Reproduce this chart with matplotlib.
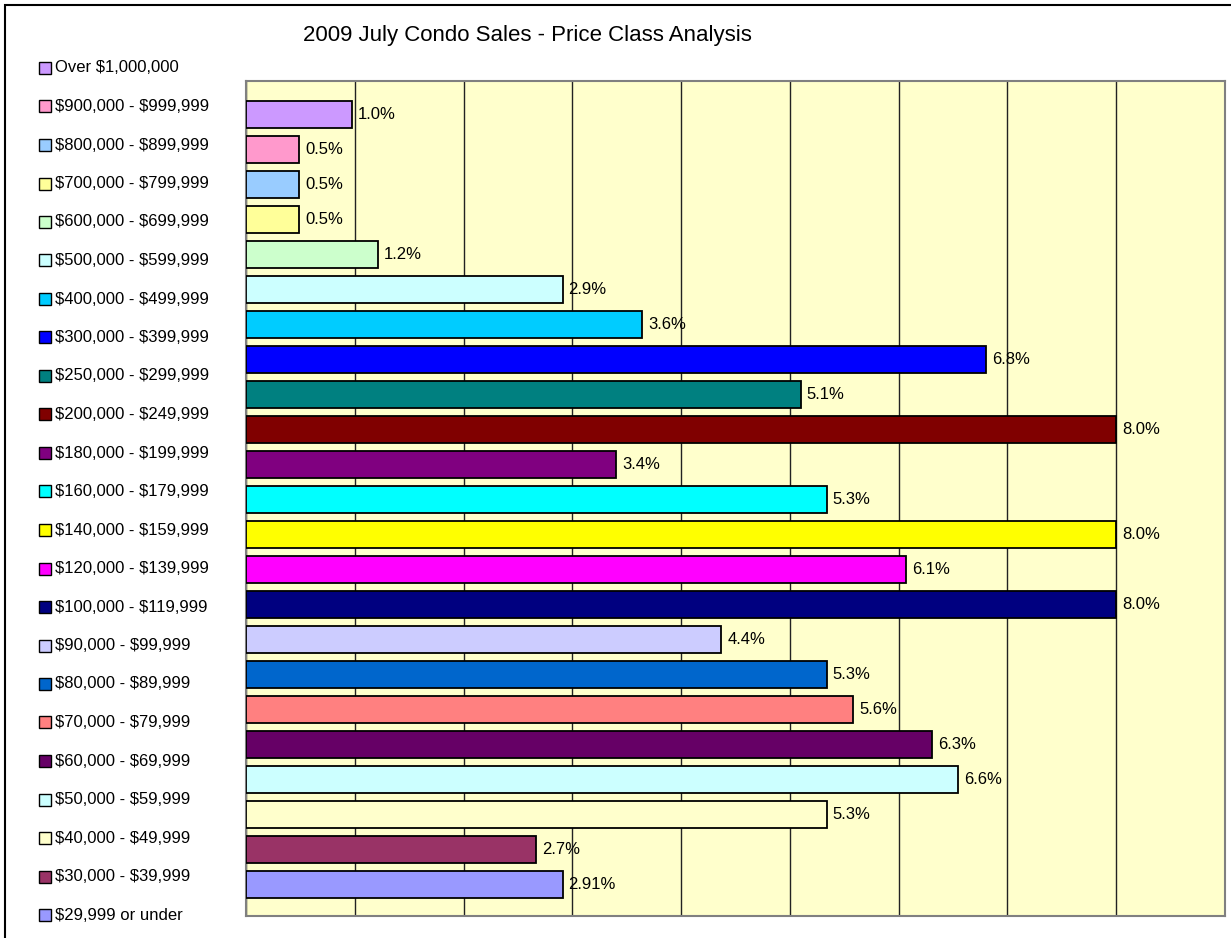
import numpy as np
import matplotlib.pyplot as plt
from matplotlib.patches import Rectangle

plt.rcParams['font.family'] = ['Liberation Sans', 'DejaVu Sans']

# price classes, top to bottom
classes = ['Over $1,000,000', '$900,000 - $999,999', '$800,000 - $899,999',
           '$700,000 - $799,999', '$600,000 - $699,999', '$500,000 - $599,999',
           '$400,000 - $499,999', '$300,000 - $399,999', '$250,000 - $299,999',
           '$200,000 - $249,999', '$180,000 - $199,999', '$160,000 - $179,999',
           '$140,000 - $159,999', '$120,000 - $139,999', '$100,000 - $119,999',
           '$90,000 - $99,999', '$80,000 - $89,999', '$70,000 - $79,999',
           '$60,000 - $69,999', '$50,000 - $59,999', '$40,000 - $49,999',
           '$30,000 - $39,999', '$29,999 or under']
pct = [0.97, 0.49, 0.49, 0.49, 1.21, 2.91, 3.64, 6.80, 5.10, 8.0, 3.40, 5.34,
       8.0, 6.07, 8.0, 4.37, 5.34, 5.58, 6.31, 6.55, 5.34, 2.67, 2.91]
pct_labels = ['1.0%', '0.5%', '0.5%', '0.5%', '1.2%', '2.9%', '3.6%', '6.8%',
              '5.1%', '8.0%', '3.4%', '5.3%', '8.0%', '6.1%', '8.0%', '4.4%',
              '5.3%', '5.6%', '6.3%', '6.6%', '5.3%', '2.7%', '2.91%']
colors = ['#CC99FF', '#FF99CC', '#99CCFF', '#FFFF99', '#CCFFCC', '#CCFFFF',
          '#00CCFF', '#0000FF', '#008080', '#800000', '#800080', '#00FFFF',
          '#FFFF00', '#FF00FF', '#000080', '#CCCCFF', '#0066CC', '#FF8080',
          '#660066', '#CCFFFF', '#FFFFCC', '#993366', '#9999FF']

W, H = 1231, 938
fig = plt.figure(figsize=(W / 100, H / 100), dpi=100)
ax = fig.add_axes([246 / W, 1 - 916 / H, (1225 - 246) / W, (916 - 81) / H])
ax.set_facecolor('#FFFFCC')

y = np.arange(len(pct))
ax.barh(y, pct, height=0.77, color=colors, edgecolor='black', linewidth=1.3, zorder=3)
for yi, v, lab in zip(y, pct, pct_labels):
    ax.text(v + 0.055, yi, lab, va='center', ha='left', fontsize=12, zorder=4)

ax.set_xlim(0, 9)
ax.set_ylim(len(pct) - 1 + 0.9, -0.957)
ax.set_xticks(np.arange(0, 10, 1))
ax.xaxis.grid(True, color='#222222', linewidth=1)
ax.set_axisbelow(True)
ax.tick_params(left=False, bottom=False, labelleft=False, labelbottom=False)
for s in ax.spines.values():
    s.set_color('#808080')
    s.set_linewidth(1.5)

# title
fig.text(527 / W, 1 - 36 / H, '2009 July Condo Sales - Price Class Analysis',
         ha='center', va='center', fontsize=16)

# legend, drawn by hand
for i, (c, lab) in enumerate(zip(colors, classes)):
    yc = 68 + i * (915 - 68) / 22
    fig.patches.append(Rectangle((39 / W, 1 - (yc + 6) / H), 12 / W, 12 / H,
                                 transform=fig.transFigure, facecolor=c,
                                 edgecolor='black', linewidth=1))
    fig.text(55 / W, 1 - yc / H, lab, ha='left', va='center', fontsize=12,
             parse_math=False)

# chart border
fig.patches.append(Rectangle((5 / W, -0.01), 1.02, 1 - 5 / H + 0.01,
                             transform=fig.transFigure, fill=False,
                             edgecolor='black', linewidth=1.5))

fig.savefig('out.png', dpi=100)
